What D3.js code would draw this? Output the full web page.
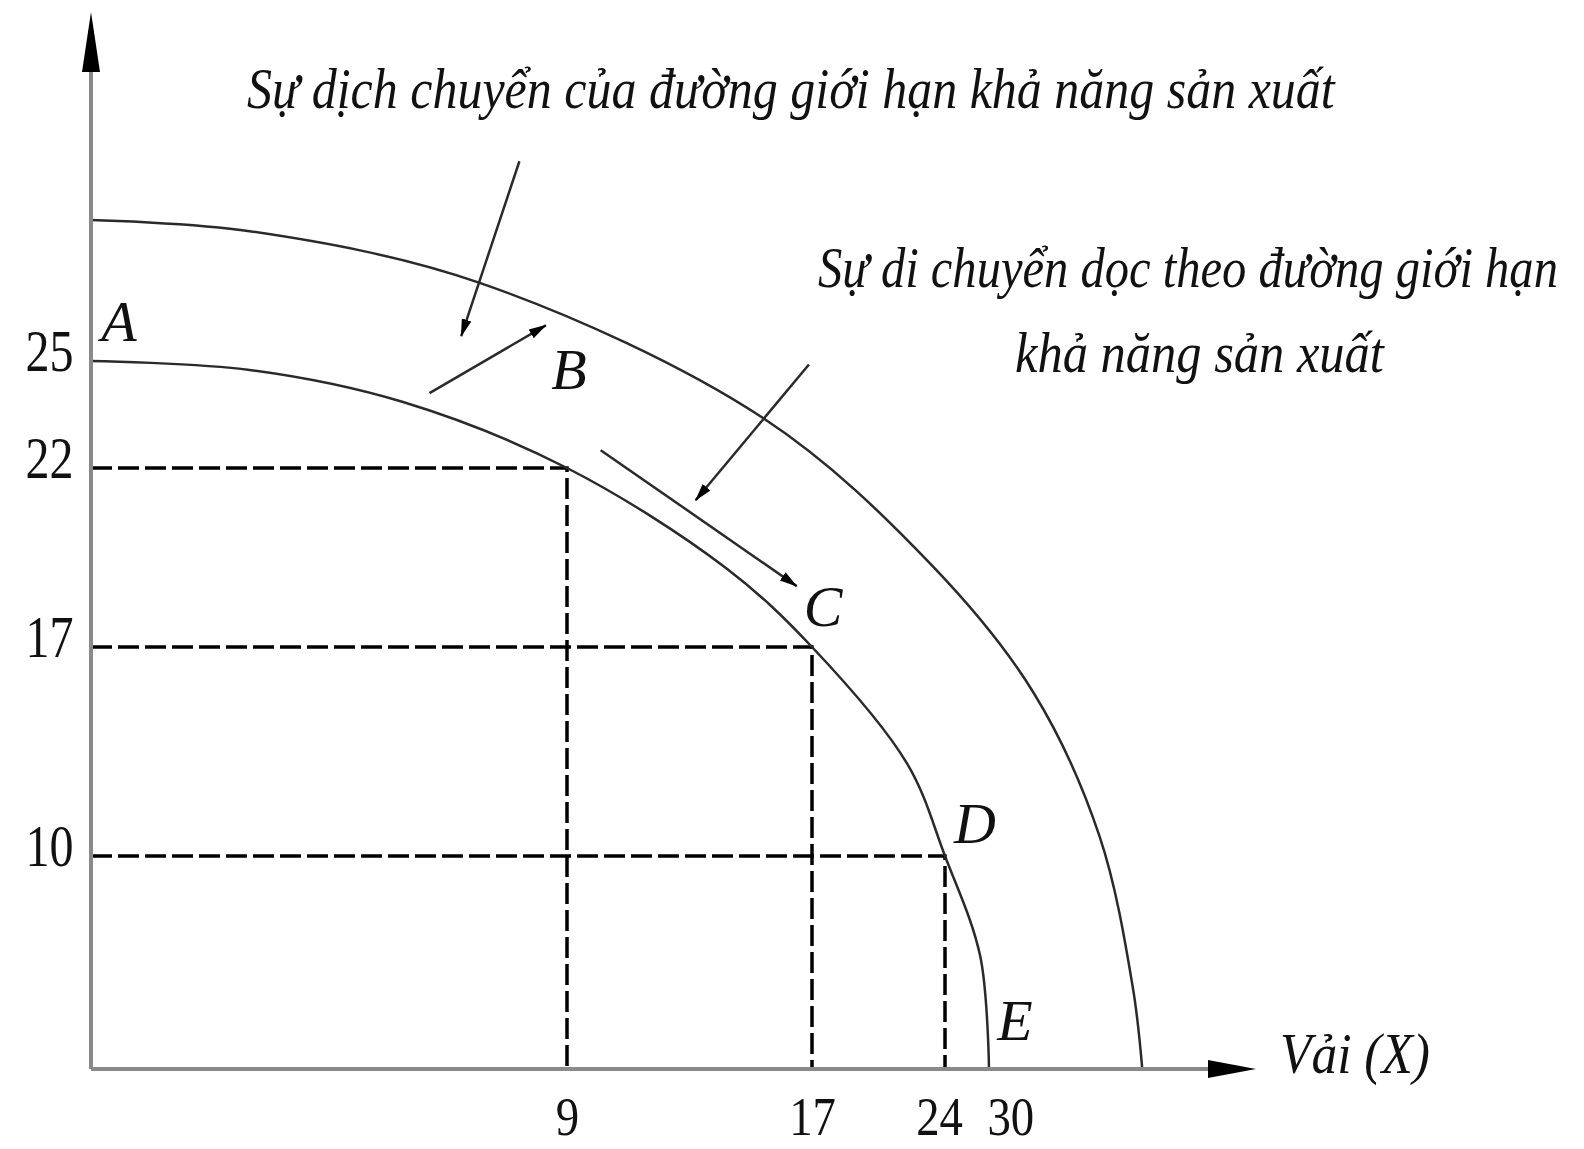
<!DOCTYPE html>
<html>
<head>
<meta charset="utf-8">
<script src="https://cdn.jsdelivr.net/npm/d3@7/dist/d3.min.js"></script>
<style>
  body { margin: 0; background: #fff; }
  text { font-family: "Liberation Serif", "Times New Roman", serif; font-style: italic; fill: #111; }
</style>
</head>
<body>
<svg id="chart" width="1584" height="1149"></svg>
<script>
// tick values on the two axes
const xTicks = [9, 17, 24, 30]
const yTicks = [25, 22, 17, 10]

// the named points on the first frontier
const pointNames = ['A', 'B', 'C', 'D', 'E']
const pointX = [0, 9, 17, 24, 30]
const pointY = [25, 22, 17, 10, 0]

// first frontier
const innerX = [0, 3.0, 5.9, 9, 14.2, 17, 22.0, 24, 28.8, 30]
const innerY = [25, 24.75, 23.85, 22, 19.2, 17, 13.1, 10, 5.3, 0]

// shifted frontier (outer curve)
const outerX = [0, 3.0, 7.35, 15.4, 23.4, 36.1, 45.1, 49.6, 50.9]
const outerY = [28.95, 28.64, 27.19, 23.4, 19.23, 15.46, 10.64, 3.85, 0]

// annotation arrows: start -> head
const arrowX1 = [8.1, 6.4, 10.1, 16.9]
const arrowY1 = [30.6, 24.1, 22.5, 24.9]
const arrowX2 = [7.0, 8.6, 16.5, 13.2]
const arrowY2 = [25.7, 26.0, 18.7, 21.1]

const titleShift = 'Sự dịch chuyển của đường giới hạn khả năng sản xuất'
const titleMove = ['Sự di chuyển dọc theo đường giới hạn', 'khả năng sản xuất']
const xLabel = 'Vải (X)'

// the axes are drawn schematically, so the scales are piecewise
const x = d3.scaleLinear()
    .domain([0, ...xTicks])
    .range([91, 567, 812, 945, 989])

const y = d3.scaleLinear()
    .domain([0, ...yTicks.slice().reverse()])
    .range([1069, 856, 647, 468, 361])

const svg = d3.select('#chart')

svg.append('defs').append('marker')
    .attr('id', 'head')
    .attr('viewBox', '0 -6 18 12')
    .attr('refX', 17)
    .attr('refY', 0)
    .attr('markerUnits', 'userSpaceOnUse')
    .attr('markerWidth', 18)
    .attr('markerHeight', 12)
    .attr('orient', 'auto')
    .append('path')
    .attr('d', 'M0,-5L18,0L0,5Z')
    .attr('fill', '#000')

//dashed guides from the axes to B, C, D
const guides = pointX.map((v, i) => [v, pointY[i]]).filter(d => d[0] > 0 && d[1] > 0)
svg.selectAll('.guide')
    .data(guides)
    .enter()
    .append('path')
    .attr('class', 'guide')
    .attr('d', d => `M${x(0)},${y(d[1])}H${x(d[0])}V${y(0)}`)
    .attr('fill', 'none')
    .attr('stroke', '#000')
    .attr('stroke-width', 3.5)
    .attr('stroke-dasharray', '21,6')

//the two frontiers
const line = d3.line()
    .x(d => x(d[0]))
    .y(d => y(d[1]))
    .curve(d3.curveCatmullRom.alpha(0.5))

const curves = [
    innerX.map((v, i) => [v, innerY[i]]),
    outerX.map((v, i) => [v, outerY[i]])
]
svg.selectAll('.ppf')
    .data(curves)
    .enter()
    .append('path')
    .attr('class', 'ppf')
    .attr('d', line)
    .attr('fill', 'none')
    .attr('stroke', '#2a2a2a')
    .attr('stroke-width', 2.5)

//axes lines (gray) with black heads
svg.append('line')
    .attr('x1', x(0)).attr('y1', y(0))
    .attr('x2', x(0)).attr('y2', 70)
    .attr('stroke', '#8a8a8a').attr('stroke-width', 4)
svg.append('line')
    .attr('x1', x(0)).attr('y1', y(0))
    .attr('x2', 1212).attr('y2', y(0))
    .attr('stroke', '#8a8a8a').attr('stroke-width', 4)
svg.append('path')
    .attr('d', `M${x(0)},12L${x(0) + 9},72L${x(0) - 9},72Z`)
    .attr('fill', '#000')
svg.append('path')
    .attr('d', `M1256,${y(0)}L1208,${y(0) - 9}L1208,${y(0) + 9}Z`)
    .attr('fill', '#000')

//tick labels through d3 axes
const yAxis = svg.append('g')
    .attr('transform', `translate(${x(0)},0)`)
    .call(d3.axisLeft(y).tickValues(yTicks).tickSize(0).tickPadding(22).tickFormat(d3.format('d')))
yAxis.select('.domain').remove()
yAxis.selectAll('text')
    .attr('dy', '0.15em')
    .attr('transform', 'scale(0.8,1)')

const xAxis = svg.append('g')
    .attr('transform', `translate(0,${y(0)})`)
    .call(d3.axisBottom(x).tickValues(xTicks).tickSize(0).tickPadding(27).tickFormat(d3.format('d')))
xAxis.select('.domain').remove()
xAxis.selectAll('text')
    .attr('transform', 'scale(0.85,1)')
    .attr('dx', d => d === 30 ? 25 : d === 24 ? -7 : 0)

yAxis.selectAll('text')
    .style('font-size', '60px')
xAxis.selectAll('text')
    .style('font-size', '55px')
svg.selectAll('.tick text')
    .style('font-family', '"Liberation Serif", serif')
    .style('font-style', 'normal')
    .attr('fill', '#111')

//point letters
const labelOffset = [[28, -20], [2, -79], [11, -21], [30, -13], [26, -29]]
svg.selectAll('.pt')
    .data(pointNames)
    .enter()
    .append('text')
    .attr('class', 'pt')
    .attr('x', (d, i) => x(pointX[i]) + labelOffset[i][0])
    .attr('y', (d, i) => y(pointY[i]) + labelOffset[i][1])
    .attr('text-anchor', 'middle')
    .style('font-size', '58px')
    .text(d => d)

//annotation arrows
svg.selectAll('.note')
    .data(arrowX1)
    .enter()
    .append('line')
    .attr('class', 'note')
    .attr('x1', (d, i) => x(arrowX1[i]))
    .attr('y1', (d, i) => y(arrowY1[i]))
    .attr('x2', (d, i) => x(arrowX2[i]))
    .attr('y2', (d, i) => y(arrowY2[i]))
    .attr('stroke', '#2a2a2a')
    .attr('stroke-width', 2.5)
    .attr('marker-end', 'url(#head)')

//texts, squeezed horizontally to the width they have in the picture
function fitText(str, left, base, width, size) {
    const t = svg.append('text')
        .style('font-size', size + 'px')
        .text(str)
    const w = t.node().getComputedTextLength()
    t.attr('transform', `translate(${left},${base}) scale(${width / w},1)`)
}

fitText(titleShift, 247, 108, 1088, 56)
fitText(titleMove[0], 818, 287, 740, 56)
fitText(titleMove[1], 1015, 372, 369, 56)
fitText(xLabel, 1280, 1073, 150, 58)
</script>
</body>
</html>
